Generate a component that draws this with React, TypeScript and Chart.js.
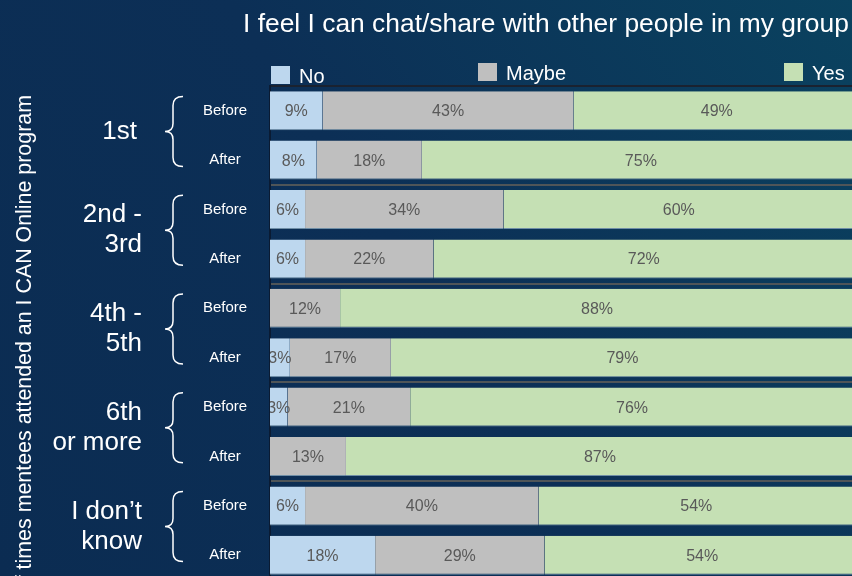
import { useEffect, useRef } from "react";
import { Chart, registerables } from "chart.js";

Chart.register(...registerables);

const FONT = '"Liberation Sans", Arial, Helvetica, sans-serif';

const titleText = "I feel I can chat/share with other people in my group";
const yAxisTitle = "Number of times mentees attended an I CAN Online program";
const seriesNames = ["No", "Maybe", "Yes"];
const seriesColors = ["#bdd7ee", "#bfbfbf", "#c5e0b4"];
const rowLabels = ["Before", "After", "Before", "After", "Before", "After", "Before", "After", "Before", "After"];
const groupLabels = [["1st"], ["2nd -", "3rd"], ["4th -", "5th"], ["6th", "or more"], ["I don\u2019t", "know"]];
const noValues = [9, 8, 6, 6, 0, 3.4, 3, 0, 6, 18];
const maybeValues = [43, 18, 34, 22, 12, 17.3, 21, 13, 40, 29];
const yesValues = [49, 75, 60, 72, 88, 79.3, 76, 87, 54, 54];

export default function App() {
  const ref = useRef<HTMLCanvasElement>(null);

  useEffect(() => {
    if (!ref.current) return;

    const bgPlugin = {
      id: "bgPlugin",
      beforeDraw(chart: any) {
        const { ctx, width, height } = chart;
        const g = ctx.createLinearGradient(0, height, width, 0);
        g.addColorStop(0, "#0b2c52");
        g.addColorStop(0.5, "#0c2f56");
        g.addColorStop(1, "#0a425f");
        ctx.save();
        ctx.fillStyle = g;
        ctx.fillRect(0, 0, width, height);
        ctx.restore();
      },
    };

    const labelPlugin = {
      id: "labelPlugin",
      afterDatasetsDraw(chart: any) {
        const { ctx, chartArea } = chart;
        ctx.save();
        ctx.beginPath();
        ctx.rect(chartArea.left, chartArea.top, chartArea.right - chartArea.left, chartArea.bottom - chartArea.top);
        ctx.clip();
        ctx.font = `16px ${FONT}`;
        ctx.fillStyle = "#595959";
        ctx.textAlign = "center";
        ctx.textBaseline = "middle";
        chart.data.datasets.forEach((ds: any, i: number) => {
          const meta = chart.getDatasetMeta(i);
          meta.data.forEach((el: any, j: number) => {
            const v = ds.data[j];
            if (!v) return;
            const p = el.getProps(["x", "base", "y"], true);
            ctx.fillText(Math.round(v) + "%", (p.x + p.base) / 2, p.y + 1);
          });
        });
        ctx.restore();
      },
    };

    const decorPlugin = {
      id: "decorPlugin",
      afterDraw(chart: any) {
        const { ctx, chartArea } = chart;
        const yScale = chart.scales.y;
        ctx.save();
        ctx.fillStyle = "#ffffff";

        // title
        ctx.font = `26.4px ${FONT}`;
        ctx.textAlign = "left";
        ctx.textBaseline = "alphabetic";
        ctx.fillText(titleText, 243, 32);

        // legend
        const legendOffsets = [1, 208, 514];
        ctx.font = `20px ${FONT}`;
        seriesNames.forEach((name, i) => {
          const x = chartArea.left + legendOffsets[i];
          const dy = i === 0 ? 3 : 0;
          ctx.fillStyle = seriesColors[i];
          ctx.fillRect(x, 63 + dy, 19, 18);
          ctx.fillStyle = "#ffffff";
          ctx.fillText(name, x + 28, 80 + dy);
        });

        // y axis title
        ctx.save();
        ctx.font = `21.4px ${FONT}`;
        ctx.translate(31, 95);
        ctx.rotate(-Math.PI / 2);
        ctx.textAlign = "right";
        ctx.textBaseline = "alphabetic";
        ctx.fillText(yAxisTitle, 0, 0);
        ctx.restore();

        // row labels
        ctx.font = `15px ${FONT}`;
        ctx.textAlign = "center";
        ctx.textBaseline = "middle";
        rowLabels.forEach((lab, j) => {
          const y = yScale.getPixelForValue(j);
          ctx.fillText(lab, chartArea.left - 45, y);
        });

        // group labels and braces
        groupLabels.forEach((lines, g) => {
          const c = (yScale.getPixelForValue(2 * g) + yScale.getPixelForValue(2 * g + 1)) / 2;
          const mid = c - 4;
          ctx.font = `26px ${FONT}`;
          ctx.textAlign = "right";
          ctx.textBaseline = "middle";
          const lh = 30;
          const start = mid - ((lines.length - 1) * lh) / 2;
          const xr = lines.length === 1 ? 137 : 142;
          lines.forEach((t, k) => ctx.fillText(t, xr, start + k * lh));

          const top = mid - 35;
          const bot = mid + 35;
          const xe = 183;
          const xv = 173;
          const xp = 165;
          ctx.strokeStyle = "#ffffff";
          ctx.lineWidth = 1.5;
          ctx.beginPath();
          ctx.moveTo(xe, top);
          ctx.quadraticCurveTo(xv, top, xv, top + 9);
          ctx.lineTo(xv, mid - 8);
          ctx.quadraticCurveTo(xv, mid, xp, mid);
          ctx.quadraticCurveTo(xv, mid, xv, mid + 8);
          ctx.lineTo(xv, bot - 9);
          ctx.quadraticCurveTo(xv, bot, xe, bot);
          ctx.stroke();
        });

        ctx.restore();
      },
    };

    const chart = new Chart(ref.current, {
      type: "bar",
      data: {
        labels: rowLabels,
        datasets: [noValues, maybeValues, yesValues].map((d, i) => ({
          label: seriesNames[i],
          data: d,
          backgroundColor: seriesColors[i],
          borderColor: "#6f8ea6",
          borderWidth: { top: 0, left: 0, right: 0, bottom: 1 },
          borderSkipped: false,
          barPercentage: 0.79,
          categoryPercentage: 1,
        })),
      },
      options: {
        indexAxis: "y",
        animation: false,
        responsive: false,
        maintainAspectRatio: false,
        layout: { padding: { left: 270, top: 86, right: 0, bottom: 0 } },
        plugins: {
          legend: { display: false },
          title: { display: false },
          tooltip: { enabled: false },
        },
        scales: {
          x: { display: false, stacked: true, min: 0, max: 100 },
          y: {
            stacked: true,
            ticks: { display: false },
            grid: {
              drawTicks: false,
              offset: true,
              lineWidth: 2,
              color: (ctx: any) =>
                ctx.index === 0 ? "#1a2230" : ctx.index % 2 === 0 ? "#4f5558" : "rgba(0,0,0,0)",
            },
            border: { display: true, color: "#0a1b33", width: 2 },
          },
        },
      },
      plugins: [bgPlugin, labelPlugin, decorPlugin],
    } as any);

    return () => chart.destroy();
  }, []);

  return (
    <div style={{ position: "fixed", left: 0, top: 0, width: 852, height: 576, overflow: "hidden" }}>
      <canvas ref={ref} width={854} height={580} style={{ display: "block" }} />
    </div>
  );
}
